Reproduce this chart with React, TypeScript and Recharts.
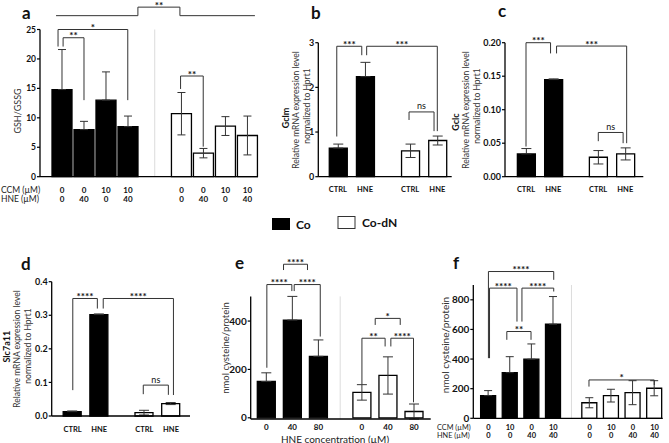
import { BarChart, Bar, XAxis, YAxis, ErrorBar, Cell, ReferenceLine } from 'recharts';

const FONT = 'Lato, "Open Sans", "DejaVu Sans", sans-serif';
const INK = '#111';
const LINE = '#333';

// a: GSH/GSSG ratio, CCM x HNE
const ccmA = ['0', '0', '10', '10'];
const hneA = ['0', '40', '0', '40'];
const gshCo = [14.8, 8.0, 13.0, 8.5];
const gshCoErr = [6.8, 1.4, 4.8, 1.8];
const gshCoDn = [10.7, 4.0, 8.6, 7.0];
const gshCoDnErr = [3.6, 0.8, 1.6, 3.3];

// b-d: qPCR, relative expression vs Hprt1
const treatments = ['CTRL', 'HNE'];
const gclmCo = [0.64, 2.24];
const gclmCoErr = [0.09, 0.32];
const gclmCoDn = [0.58, 0.81];
const gclmCoDnErr = [0.15, 0.1];
const gclcCo = [0.034, 0.145];
const gclcCoErr = [0.008, 0.001];
const gclcCoDn = [0.029, 0.034];
const gclcCoDnErr = [0.01, 0.009];
const slcCo = [0.013, 0.302];
const slcCoErr = [0.002, 0.002];
const slcCoDn = [0.01, 0.037];
const slcCoDnErr = [0.007, 0.003];

// e: cysteine vs HNE dose
const hneDoses = ['0', '40', '80'];
const cysHneCo = [150, 404, 254];
const cysHneCoErr = [36, 98, 68];
const cysHneCoDn = [105, 175, 26];
const cysHneCoDnErr = [32, 77, 31];

// f: cysteine, CCM x HNE
const ccmF = ['0', '10', '0', '10'];
const hneF = ['0', '0', '40', '40'];
const cysCcmCo = [153, 308, 399, 635];
const cysCcmCoErr = [34, 108, 103, 187];
const cysCcmCoDn = [105, 153, 173, 203];
const cysCcmCoDnErr = [34, 43, 81, 51];

type Bracket = {
  x1: number;
  x2: number;
  top: number;
  foot1: number;
  foot2: number;
  label: string;
  arms?: [number, number];
};

const gshBrackets: Bracket[] = [
  { x1: 0.05, x2: 1.0, top: 23.6, foot1: 22.1, foot2: 13.0, label: '**' },
  { x1: -0.18, x2: 2.99, top: 25.0, foot1: 22.1, foot2: 13.0, label: '*' },
  { x1: 5.39, x2: 6.42, top: 17.1, foot1: 14.9, foot2: 5.1, label: '**' },
  { x1: 3.45, x2: 5.36, top: 28.8, foot1: 27.35, foot2: 27.35, label: '**', arms: [-0.27, 8.77] },
];
const gclmBrackets: Bracket[] = [
  { x1: -0.04, x2: 0.88, top: 2.92, foot1: 0.9, foot2: 2.72, label: '***' },
  { x1: 1.06, x2: 3.66, top: 2.92, foot1: 2.72, foot2: 1.02, label: '***' },
  { x1: 2.62, x2: 3.54, top: 1.45, foot1: 1.27, foot2: 1.02, label: 'ns' },
];
const gclcBrackets: Bracket[] = [
  { x1: 0, x2: 0.9, top: 0.2, foot1: 0.045, foot2: 0.184, label: '***' },
  { x1: 1.12, x2: 3.69, top: 0.195, foot1: 0.184, foot2: 0.05, label: '***' },
  { x1: 2.65, x2: 3.56, top: 0.066, foot1: 0.053, foot2: 0.05, label: 'ns' },
];
const slcBrackets: Bracket[] = [
  { x1: 0.01, x2: 0.93, top: 0.35, foot1: 0.077, foot2: 0.32, label: '****' },
  { x1: 1.15, x2: 3.78, top: 0.35, foot1: 0.32, foot2: 0.0625, label: '****' },
  { x1: 2.65, x2: 3.59, top: 0.092, foot1: 0.065, foot2: 0.063, label: 'ns' },
];
const cysHneBrackets: Bracket[] = [
  { x1: 0.66, x2: 1.58, top: 635, foot1: 611, foot2: 611, label: '****' },
  { x1: 0.02, x2: 0.98, top: 551, foot1: 207, foot2: 524, label: '****' },
  { x1: 1.07, x2: 2.07, top: 551, foot1: 524, foot2: 336, label: '****' },
  { x1: 3.67, x2: 4.56, top: 329, foot1: 139, foot2: 295, label: '**' },
  { x1: 4.78, x2: 5.65, top: 329, foot1: 295, foot2: 64, label: '****' },
  { x1: 4.18, x2: 5.14, top: 411, foot1: 384, foot2: 384, label: '*' },
];
const cysCcmBrackets: Bracket[] = [
  { x1: 0, x2: 3.02, top: 991, foot1: 406, foot2: 935, label: '****' },
  { x1: 0.05, x2: 1.32, top: 879, foot1: 406, foot2: 653, label: '****' },
  { x1: 1.55, x2: 3.02, top: 879, foot1: 653, foot2: 856, label: '****' },
  { x1: 0.85, x2: 1.97, top: 586, foot1: 530, foot2: 530, label: '**' },
  { x1: 4.65, x2: 7.67, top: 259, foot1: 214, foot2: 225, label: '*' },
];

type Row = { pos: number; value: number; err: [number, number]; fill: string };

// Co bars sit at 0..n-1, Co-dN bars follow after a gap (in bar-spacing units).
// The lower whisker of a solid bar would vanish into the fill anyway, so only its upper half is drawn.
function buildRows(co: number[], coErr: number[], dn: number[], dnErr: number[], gap: number): Row[] {
  const rows: Row[] = co.map((v, i) => ({ pos: i, value: v, err: [0, coErr[i]], fill: '#000' }));
  dn.forEach((v, i) =>
    rows.push({ pos: co.length - 1 + gap + i, value: v, err: [dnErr[i], dnErr[i]], fill: '#fff' }),
  );
  return rows;
}

type PanelSpec = {
  box: [number, number, number, number];
  plot: [number, number, number, number];
  yAxisWidth: number;
  xAxisHeight: number;
  rows: Row[];
  xPad: [number, number];
  yDomain: [number, number];
  yTicks: number[];
  yDigits: number;
  yFontSize: number;
  barSize: number;
  cap: number;
  tickRows: string[][];
  rowOffsets: number[];
  tickFontSize: number;
  brackets: Bracket[];
  divider?: boolean;
};

const StarLabel = (props: any) => {
  const vb = props.viewBox || {};
  const cx = (vb.x ?? 0) + (vb.width ?? 0) / 2;
  const y = vb.y ?? 0;
  const ns = props.text === 'ns';
  return (
    <text
      x={cx}
      y={ns ? y - 2.5 : y + 1.5}
      textAnchor="middle"
      fontFamily={FONT}
      fontSize={ns ? 9 : 10}
      fontWeight={ns ? 400 : 700}
      fill={INK}
    >
      {props.text}
    </text>
  );
};

function bracketLines(b: Bracket, key: string) {
  const common = { stroke: LINE, strokeWidth: 1, ifOverflow: 'visible' as const };
  const out = [
    <ReferenceLine key={key + 'l'} segment={[{ x: b.x1, y: b.foot1 }, { x: b.x1, y: b.top }]} {...common} />,
    <ReferenceLine key={key + 'r'} segment={[{ x: b.x2, y: b.foot2 }, { x: b.x2, y: b.top }]} {...common} />,
    <ReferenceLine
      key={key + 't'}
      segment={[{ x: b.x1, y: b.top }, { x: b.x2, y: b.top }]}
      {...common}
      label={(p: any) => <StarLabel viewBox={p.viewBox} text={b.label} />}
    />,
  ];
  if (b.arms) {
    out.push(
      <ReferenceLine key={key + 'al'} segment={[{ x: b.arms[0], y: b.foot1 }, { x: b.x1, y: b.foot1 }]} {...common} />,
      <ReferenceLine key={key + 'ar'} segment={[{ x: b.x2, y: b.foot2 }, { x: b.arms[1], y: b.foot2 }]} {...common} />,
    );
  }
  return out;
}

function Panel({ spec }: { spec: PanelSpec }) {
  const [bx, by, bw, bh] = spec.box;
  const [pl, pt, pr, pb] = spec.plot;
  const positions = spec.rows.map((r) => r.pos);
  const first = positions[0];
  const last = positions[positions.length - 1];
  const margin = {
    left: pl - bx - spec.yAxisWidth,
    top: pt - by,
    right: bx + bw - pr,
    bottom: by + bh - pb - spec.xAxisHeight,
  };
  const nCo = spec.rows.filter((r) => r.fill === '#000').length;
  const mid = (positions[nCo - 1] + positions[nCo]) / 2;

  const XTick = (p: any) => {
    const idx = p.payload?.index ?? positions.indexOf(p.payload?.value);
    return (
      <g>
        {spec.tickRows.map((labels, r) => (
          <text
            key={r}
            x={p.x}
            y={p.y + spec.rowOffsets[r]}
            textAnchor="middle"
            dominantBaseline="central"
            fontFamily={FONT}
            fontSize={spec.tickFontSize}
            fontWeight={700}
            fill={INK}
          >
            {labels[idx]}
          </text>
        ))}
      </g>
    );
  };

  return (
    <div style={{ position: 'absolute', left: bx, top: by }}>
      <BarChart width={bw} height={bh} data={spec.rows} margin={margin}>
        <XAxis
          type="number"
          dataKey="pos"
          domain={[first - spec.xPad[0], last + spec.xPad[1]]}
          ticks={positions}
          interval={0}
          height={spec.xAxisHeight}
          tickLine={false}
          tickSize={0}
          tickMargin={0}
          axisLine={{ stroke: '#000', strokeWidth: 1.3 }}
          tick={<XTick />}
        />
        <YAxis
          type="number"
          domain={spec.yDomain}
          ticks={spec.yTicks}
          width={spec.yAxisWidth}
          tickSize={3}
          tickMargin={1}
          interval={0}
          axisLine={{ stroke: '#000', strokeWidth: 1.3 }}
          tickLine={{ stroke: '#000', strokeWidth: 1.2 }}
          tick={{ fontSize: spec.yFontSize, fontWeight: 700, fill: INK, fontFamily: FONT }}
          tickFormatter={(v: number) => v.toFixed(spec.yDigits)}
        />
        {spec.divider && <ReferenceLine x={mid} stroke="#dcdcdc" strokeWidth={1} />}
        <Bar dataKey="value" barSize={spec.barSize} stroke="#000" strokeWidth={1.3} isAnimationActive={false}>
          {spec.rows.map((r, i) => (
            <Cell key={i} fill={r.fill} />
          ))}
          <ErrorBar dataKey="err" width={spec.cap} stroke={LINE} strokeWidth={1} direction="y" />
        </Bar>
        {spec.brackets.flatMap((b, i) => bracketLines(b, 'br' + i))}
      </BarChart>
    </div>
  );
}

const panels: PanelSpec[] = [
  {
    box: [0, 0, 262, 212],
    plot: [40, 29.5, 258, 176.7],
    yAxisWidth: 30,
    xAxisHeight: 30,
    rows: buildRows(gshCo, gshCoErr, gshCoDn, gshCoDnErr, 2.43),
    xPad: [1.0, 0.48],
    yDomain: [0, 25],
    yTicks: [0, 5, 10, 15, 20, 25],
    yDigits: 0,
    yFontSize: 8.5,
    barSize: 20,
    cap: 4,
    tickRows: [[...ccmA, ...ccmA], [...hneA, ...hneA]],
    rowOffsets: [13.3, 22.6],
    tickFontSize: 8,
    brackets: gshBrackets,
    divider: true,
  },
  {
    box: [262, 0, 194, 212],
    plot: [318.3, 42.7, 451.7, 176.7],
    yAxisWidth: 20,
    xAxisHeight: 30,
    rows: buildRows(gclmCo, gclmCoErr, gclmCoDn, gclmCoDnErr, 1.66),
    xPad: [0.72, 0.53],
    yDomain: [0, 3],
    yTicks: [0, 1, 2, 3],
    yDigits: 0,
    yFontSize: 9,
    barSize: 18,
    cap: 5,
    tickRows: [[...treatments, ...treatments]],
    rowOffsets: [12.6],
    tickFontSize: 7.5,
    brackets: gclmBrackets,
  },
  {
    box: [456, 0, 213, 212],
    plot: [505, 42.7, 643.3, 176.7],
    yAxisWidth: 30,
    xAxisHeight: 30,
    rows: buildRows(gclcCo, gclcCoErr, gclcCoDn, gclcCoDnErr, 1.64),
    xPad: [0.77, 0.66],
    yDomain: [0, 0.2],
    yTicks: [0, 0.05, 0.1, 0.15, 0.2],
    yDigits: 2,
    yFontSize: 9,
    barSize: 18,
    cap: 5,
    tickRows: [[...treatments, ...treatments]],
    rowOffsets: [12.6],
    tickFontSize: 7.5,
    brackets: gclcBrackets,
  },
  {
    box: [0, 240, 215, 203],
    plot: [51.7, 281.7, 190, 416],
    yAxisWidth: 24,
    xAxisHeight: 25,
    rows: buildRows(slcCo, slcCoErr, slcCoDn, slcCoDnErr, 1.69),
    xPad: [0.78, 0.71],
    yDomain: [0, 0.4],
    yTicks: [0, 0.1, 0.2, 0.3, 0.4],
    yDigits: 1,
    yFontSize: 9,
    barSize: 18,
    cap: 5,
    tickRows: [[...treatments, ...treatments]],
    rowOffsets: [13],
    tickFontSize: 7.5,
    brackets: slcBrackets,
  },
  {
    box: [215, 240, 225, 203],
    plot: [250.7, 296.4, 430.7, 419],
    yAxisWidth: 24,
    xAxisHeight: 22,
    rows: buildRows(cysHneCo, cysHneCoErr, cysHneCoDn, cysHneCoDnErr, 1.67),
    xPad: [0.6, 0.64],
    yDomain: [0, 500],
    yTicks: [0, 200, 400],
    yDigits: 0,
    yFontSize: 10,
    barSize: 18,
    cap: 5,
    tickRows: [[...hneDoses, ...hneDoses]],
    rowOffsets: [7.7],
    tickFontSize: 8,
    brackets: cysHneBrackets,
    divider: true,
  },
  {
    box: [440, 240, 229, 203],
    plot: [473.3, 285, 662.7, 418.3],
    yAxisWidth: 24,
    xAxisHeight: 22,
    rows: buildRows(cysCcmCo, cysCcmCoErr, cysCcmCoDn, cysCcmCoDnErr, 1.68),
    xPad: [0.7, 0.38],
    yDomain: [0, 900],
    yTicks: [0, 200, 400, 600, 800],
    yDigits: 0,
    yFontSize: 10,
    barSize: 15,
    cap: 4,
    tickRows: [[...ccmF, ...ccmF], [...hneF, ...hneF]],
    rowOffsets: [9.2, 17.4],
    tickFontSize: 7.5,
    brackets: cysCcmBrackets,
    divider: true,
  },
];

const VTitle = ({ x, y, text, size, bold }: { x: number; y: number; text: string; size: number; bold?: boolean }) => (
  <text
    x={x}
    y={y}
    transform={`rotate(-90 ${x} ${y})`}
    textAnchor="middle"
    dominantBaseline="central"
    fontFamily={FONT}
    fontSize={size}
    fontWeight={bold ? 700 : 400}
    fill={bold ? INK : '#333'}
  >
    {text}
  </text>
);

const Letter = ({ x, y, t }: { x: number; y: number; t: string }) => (
  <text x={x} y={y} fontFamily={FONT} fontSize={17} fontWeight={700} fill={INK}>
    {t}
  </text>
);

const RowTitle = ({ x, y, t, size }: { x: number; y: number; t: string; size: number }) => (
  <text x={x} y={y} dominantBaseline="central" fontFamily={FONT} fontSize={size} fill="#222">
    {t}
  </text>
);

export default function App() {
  return (
    <div style={{ position: 'absolute', left: 0, top: 0, width: 669, height: 443, background: '#fff', overflow: 'hidden' }}>
      {panels.map((p, i) => (
        <Panel key={i} spec={p} />
      ))}
      <svg width={669} height={443} style={{ position: 'absolute', left: 0, top: 0, pointerEvents: 'none' }}>
        <Letter x={22} y={18.5} t="a" />
        <Letter x={311} y={18.5} t="b" />
        <Letter x={498} y={17} t="c" />
        <Letter x={21} y={269.5} t="d" />
        <Letter x={235} y={268.5} t="e" />
        <Letter x={453} y={269.3} t="f" />

        <VTitle x={17} y={111} text="GSH/GSSG" size={9} />
        <VTitle x={285} y={118} text="Gclm" size={9} bold />
        <VTitle x={295.7} y={110} text="Relative mRNA expression level" size={8.5} />
        <VTitle x={306.5} y={106} text="normalized to Hprt1" size={8.5} />
        <VTitle x={455} y={122} text="Gclc" size={9} bold />
        <VTitle x={466} y={110} text="Relative mRNA expression level" size={8.5} />
        <VTitle x={477} y={106} text="normalized to Hprt1" size={8.5} />
        <VTitle x={6.7} y={346.7} text="Slc7a11" size={9} bold />
        <VTitle x={16.5} y={349} text="Relative mRNA expression level" size={8.5} />
        <VTitle x={28} y={346} text="normalized to Hprt1" size={8.5} />
        <VTitle x={225} y={348} text="nmol cysteine/protein" size={9.5} />
        <VTitle x={445} y={345} text="nmol cysteine/protein" size={10} />

        <RowTitle x={1} y={190} t="CCM (µM)" size={8.5} />
        <RowTitle x={1} y={199.3} t="HNE (µM)" size={8.5} />
        <RowTitle x={437} y={427.2} t="CCM (µM)" size={7.3} />
        <RowTitle x={437} y={435.8} t="HNE (µM)" size={7.3} />
        <text x={335} y={438.5} textAnchor="middle" dominantBaseline="central" fontFamily={FONT} fontSize={10} fill="#222">
          HNE concentration (µM)
        </text>

        <rect x={272} y={218} width={18} height={12} fill="#000" />
        <text x={296} y={224} dominantBaseline="central" fontFamily={FONT} fontSize={12} fontWeight={700} fill={INK}>
          Co
        </text>
        <rect x={338} y={216.5} width={17} height={12} fill="#fff" stroke="#333" strokeWidth={1} />
        <text x={362} y={222.5} dominantBaseline="central" fontFamily={FONT} fontSize={12} fontWeight={700} fill={INK}>
          Co-dN
        </text>
      </svg>
    </div>
  );
}
